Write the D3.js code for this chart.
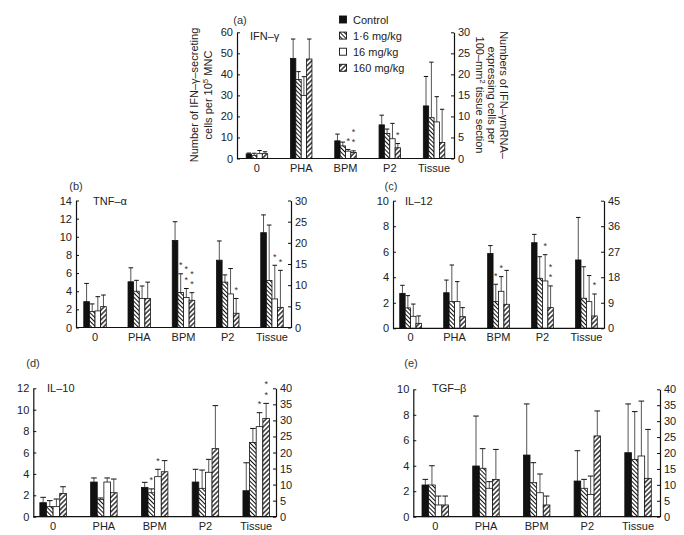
<!DOCTYPE html>
<html><head><meta charset="utf-8">
<script src="https://cdn.jsdelivr.net/npm/d3@7"></script>
<style>
body{margin:0;background:#fff}
svg{display:block}
text{font-family:"Liberation Sans",Arial,Helvetica,sans-serif}
</style>
</head><body>
<svg id="c" width="684" height="535"></svg>
<script>
// ---------- DATA ----------
const groups = ["0", "PHA", "BPM", "P2", "Tissue"];
const series = ["Control", "1·6 mg/kg", "16 mg/kg", "160 mg/kg"];

// (a) IFN-γ  (first four groups: left axis; Tissue: right axis)
const ifnMeans = [
  [2.2, 47.6, 8.4, 16.0, 12.5],
  [1.5, 37.6, 6.0, 11.9, 9.7],
  [2.3, 30.0, 3.5, 9.4, 8.7],
  [2.3, 47.3, 2.9, 5.1, 3.8]
];
const ifnTops = [
  [2.6, 56.8, 11.6, 20.6, 19.5],
  [2.5, 41.3, 7.8, 14.0, 22.9],
  [3.8, 38.9, 4.3, 16.7, 14.7],
  [3.2, 56.8, 3.65, 7.1, 11.7]
];
const ifnStars = [["BPM", 2, 1], ["BPM", 3, 2], ["P2", 3, 1]];
const ifnLeftTicks = [0, 10, 20, 30, 40, 50, 60];
const ifnRightTicks = [0, 5, 10, 15, 20, 25, 30];

// (b) TNF-α
const tnfMeans = [
  [2.85, 5.04, 9.6, 7.42, 22.4],
  [1.75, 4.0, 3.87, 5.0, 11.1],
  [1.83, 3.2, 3.3, 3.7, 6.75],
  [2.3, 3.2, 3.0, 1.57, 4.76]
];
const tnfTops = [
  [4.86, 6.58, 11.66, 9.54, 26.6],
  [2.6, 5.2, 5.92, 5.8, 24.2],
  [3.4, 4.57, 4.3, 6.5, 14.7],
  [3.58, 5.0, 3.84, 3.2, 13.5]
];
const tnfStars = [["BPM", 1, 1], ["BPM", 2, 2], ["BPM", 3, 2], ["P2", 3, 1], ["Tissue", 2, 1], ["Tissue", 3, 1]];
const tnfLeftTicks = [0, 2, 4, 6, 8, 10, 12, 14];
const tnfRightTicks = [0, 5, 10, 15, 20, 25, 30];

// (c) IL-12
const il12Means = [
  [2.74, 2.79, 5.87, 6.71, 24.1],
  [1.6, 2.09, 2.09, 3.92, 10.6],
  [0.94, 2.09, 2.9, 3.71, 9.4],
  [0.39, 0.91, 1.88, 1.62, 4.35]
];
const il12Tops = [
  [3.37, 3.78, 6.48, 7.36, 39.1],
  [2.56, 4.96, 3.45, 5.61, 21.7],
  [1.9, 3.66, 4.05, 5.77, 18.6],
  [0.97, 1.62, 4.54, 3.32, 12.1]
];
const il12Stars = [["BPM", 1, 1], ["BPM", 2, 1], ["P2", 2, 1], ["P2", 3, 2], ["Tissue", 3, 1]];
const il12LeftTicks = [0, 2, 4, 6, 8, 10];
const il12RightTicks = [0, 9, 18, 27, 36, 45];

// (d) IL-10
const il10Means = [
  [1.31, 3.24, 2.74, 3.24, 8.1],
  [0.94, 1.62, 2.24, 2.65, 23.1],
  [0.94, 3.24, 3.74, 4.15, 28.05],
  [2.18, 2.24, 4.2, 6.36, 30.6]
];
const il10Tops = [
  [1.81, 3.62, 3.21, 4.43, 16.8],
  [1.5, 1.75, 2.6, 4.36, 27.5],
  [1.65, 3.62, 4.43, 5.36, 32.4],
  [2.8, 3.52, 5.24, 10.38, 35.3]
];
const il10Stars = [["BPM", 1, 1], ["BPM", 2, 1], ["Tissue", 2, 1], ["Tissue", 3, 2]];
const il10LeftTicks = [0, 2, 4, 6, 8, 10, 12];
const il10RightTicks = [0, 5, 10, 15, 20, 25, 30, 35, 40];

// (e) TGF-β
const tgfMeans = [
  [2.49, 3.98, 4.84, 2.8, 20.1],
  [2.49, 3.8, 2.67, 2.23, 18.0],
  [0.92, 2.23, 1.88, 1.75, 19.06],
  [0.92, 2.93, 0.92, 6.34, 12.04]
];
const tgfTops = [
  [2.93, 7.9, 8.85, 5.18, 35.4],
  [4.0, 5.34, 4.24, 2.93, 33.0],
  [1.62, 2.75, 3.35, 3.19, 36.3],
  [1.62, 5.28, 1.62, 8.3, 27.4]
];
const tgfStars = [];
const tgfLeftTicks = [0, 2, 4, 6, 8, 10];
const tgfRightTicks = [0, 5, 10, 15, 20, 25, 30, 35, 40];

// ---------- DRAWING ----------
const svg = d3.select("#c");
const defs = svg.append("defs");
function hatch(id, angle, w, sw) {
  const p = defs.append("pattern").attr("id", id).attr("patternUnits", "userSpaceOnUse")
    .attr("width", w).attr("height", w).attr("patternTransform", `rotate(${angle})`);
  p.append("rect").attr("width", w).attr("height", w).attr("fill", "#fff");
  p.append("line").attr("x1", w / 2).attr("x2", w / 2).attr("y1", 0).attr("y2", w)
    .attr("stroke", "#111").attr("stroke-width", sw);
}
hatch("hBack", -45, 3.0, 1.0);
hatch("hFwd", 45, 3.4, 1.3);
const fills = ["#111", "url(#hBack)", "#fff", "url(#hFwd)"];
const TXT = "#222";

function panel(cfg, means, tops, stars, lTicks, rTicks) {
  const g = svg.append("g");
  const x = d3.scalePoint().domain(groups).range([cfg.L, cfg.R]).padding(cfg.pad);
  const xs = d3.scaleBand().domain(d3.range(series.length)).range([-cfg.gw / 2, cfg.gw / 2]);
  const bw = xs.bandwidth();
  const yl = d3.scaleLinear().domain([0, lTicks[lTicks.length - 1]]).range([cfg.bottom, cfg.top]);
  const yr = d3.scaleLinear().domain([0, rTicks[rTicks.length - 1]]).range([cfg.bottom, cfg.top]);
  const yOf = gn => gn === "Tissue" ? yr : yl;

  series.forEach((s, si) => {
    groups.forEach((gn, gi) => {
      const y = yOf(gn);
      const bx = x(gn) + xs(si);
      const cx = bx + bw / 2;
      const v = means[si][gi], t = tops[si][gi];
      g.append("line").attr("x1", cx).attr("x2", cx).attr("y1", y(v)).attr("y2", y(t))
        .attr("stroke", "#555").attr("stroke-width", 1);
      g.append("line").attr("x1", bx + 0.5).attr("x2", bx + bw - 0.5).attr("y1", y(t)).attr("y2", y(t))
        .attr("stroke", "#111").attr("stroke-width", 1);
      g.append("rect").attr("x", bx).attr("y", y(v)).attr("width", bw).attr("height", cfg.bottom - y(v))
        .attr("fill", fills[si]).attr("stroke", "#111").attr("stroke-width", 0.8);
    });
  });

  stars.forEach(([gn, si, n]) => {
    const y = yOf(gn);
    const gi = groups.indexOf(gn);
    const cx = x(gn) + xs(si) + bw / 2;
    const capY = y(tops[si][gi]);
    for (let k = 0; k < n; k++) {
      g.append("text").attr("x", cx).attr("y", capY + 5 - (k + 1) * 10.5)
        .attr("text-anchor", "middle").attr("font-size", 9).attr("fill", "#333").text("*");
    }
  });

  const styleAxis = a => {
    a.selectAll("text").attr("font-size", 11).attr("fill", TXT)
      .attr("font-family", '"Liberation Sans",Arial,sans-serif');
    a.select(".domain").attr("stroke", "#111").attr("stroke-width", 1.2);
    a.selectAll(".tick line").attr("stroke", "#111").attr("stroke-width", 1);
  };
  g.append("g").attr("transform", `translate(${cfg.L},0)`)
    .call(d3.axisLeft(yl).tickValues(lTicks).tickSize(-3).tickSizeOuter(0).tickPadding(4))
    .call(styleAxis);
  g.append("g").attr("transform", `translate(${cfg.R},0)`)
    .call(d3.axisRight(yr).tickValues(rTicks).tickSize(-3).tickSizeOuter(0).tickPadding(4))
    .call(styleAxis);
  g.append("line").attr("x1", cfg.L).attr("x2", cfg.R).attr("y1", cfg.bottom).attr("y2", cfg.bottom)
    .attr("stroke", "#111").attr("stroke-width", 1.2);

  groups.forEach(gn => {
    g.append("text").attr("x", x(gn)).attr("y", cfg.bottom + 13).attr("text-anchor", "middle")
      .attr("font-size", 11).attr("fill", TXT).text(gn);
  });

  g.append("text").attr("x", cfg.tagX).attr("y", cfg.tagY).attr("text-anchor", "middle")
    .attr("font-size", 11).attr("fill", "#333").text(cfg.tag);
  g.append("text").attr("x", cfg.nameX).attr("y", cfg.nameY)
    .attr("font-size", 11).attr("fill", TXT).text(cfg.name);
}

panel({L: 237, R: 454, top: 32.3, bottom: 158.5, pad: 0.45, gw: 21.5,
       tag: "(a)", tagX: 240, tagY: 24, name: "IFN–γ", nameX: 250, nameY: 40},
      ifnMeans, ifnTops, ifnStars, ifnLeftTicks, ifnRightTicks);
panel({L: 76, R: 291, top: 200.5, bottom: 327.5, pad: 0.43, gw: 22.5,
       tag: "(b)", tagX: 76, tagY: 190, name: "TNF–α", nameX: 93, nameY: 205},
      tnfMeans, tnfTops, tnfStars, tnfLeftTicks, tnfRightTicks);
panel({L: 393, R: 604, top: 200.7, bottom: 328.3, pad: 0.40, gw: 21.7,
       tag: "(c)", tagX: 391, tagY: 190, name: "IL–12", nameX: 405, nameY: 205},
      il12Means, il12Tops, il12Stars, il12LeftTicks, il12RightTicks);
panel({L: 33.3, R: 276, top: 388.3, bottom: 516.7, pad: 0.39, gw: 26.5,
       tag: "(d)", tagX: 33, tagY: 367, name: "IL–10", nameX: 47, nameY: 392},
      il10Means, il10Tops, il10Stars, il10LeftTicks, il10RightTicks);
panel({L: 413.3, R: 660, top: 389.3, bottom: 516.7, pad: 0.433, gw: 26.5,
       tag: "(e)", tagX: 411, tagY: 367, name: "TGF–β", nameX: 432, nameY: 392},
      tgfMeans, tgfTops, tgfStars, tgfLeftTicks, tgfRightTicks);

// Legend (panel a)
const leg = svg.append("g");
series.forEach((s, i) => {
  const cy = 19.5 + i * 16.1;
  leg.append("rect").attr("x", 339.5).attr("y", cy - 3.5).attr("width", 7).attr("height", 7)
    .attr("fill", fills[i]).attr("stroke", "#111").attr("stroke-width", 0.9);
  leg.append("text").attr("x", 353).attr("y", cy + 4).attr("font-size", 11).attr("fill", TXT).text(s);
});

// Axis titles panel (a)
const lt = svg.append("text").attr("transform", "translate(198,95) rotate(-90)")
  .attr("text-anchor", "middle").attr("font-size", 11).attr("fill", TXT);
lt.append("tspan").attr("x", 0).attr("y", 0).text("Number of IFN–γ–secreting");
const l2 = lt.append("tspan").attr("x", 0).attr("y", 13.5);
l2.append("tspan").text("cells per 10");
l2.append("tspan").attr("dy", -4).attr("font-size", 8).text("5");
l2.append("tspan").attr("dy", 4).text(" MNC");

const rt = svg.append("text").attr("transform", "translate(500,95) rotate(90)")
  .attr("text-anchor", "middle").attr("font-size", 11).attr("fill", TXT);
rt.append("tspan").attr("x", 0).attr("y", 0).text("Numbers of IFN–γmRNA–");
rt.append("tspan").attr("x", 0).attr("y", 12).text("expressing cells per");
const r3 = rt.append("tspan").attr("x", 0).attr("y", 24);
r3.append("tspan").text("100–mm");
r3.append("tspan").attr("dy", -4).attr("font-size", 8).text("2");
r3.append("tspan").attr("dy", 4).text(" tissue section");
</script>
</body></html>
